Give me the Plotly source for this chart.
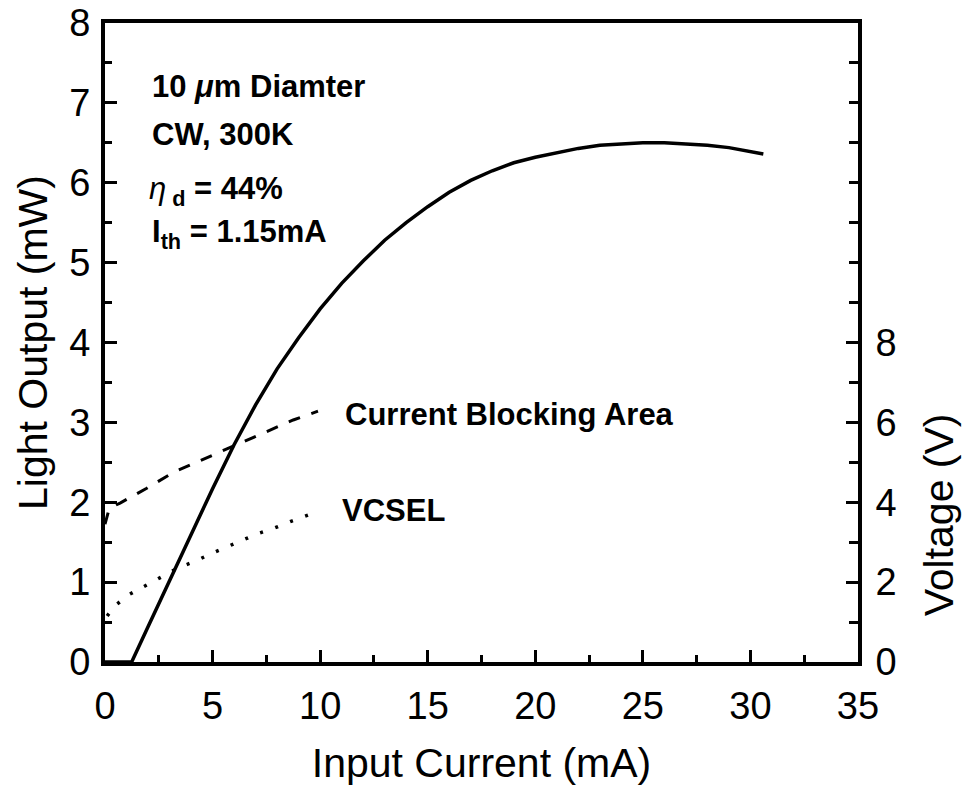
import plotly.graph_objects as go

# ---- data ----
current_L = [0.0, 0.6, 1.24, 2.0, 3.0, 4.0, 5.0, 6.0, 7.0, 8.0, 9.0, 10.0, 11.0, 12.0,
             13.0, 14.0, 15.0, 16.0, 17.0, 18.0, 19.0, 20.0, 21.0, 22.0, 23.0, 24.0,
             25.0, 26.0, 27.0, 28.0, 29.0, 30.0, 30.6]
light_mW = [0.0, 0.0, 0.0, 0.44, 1.02, 1.60, 2.17, 2.72, 3.22, 3.67, 4.06, 4.42, 4.74, 5.02,
            5.28, 5.50, 5.70, 5.88, 6.03, 6.15, 6.25, 6.32, 6.38, 6.43, 6.47, 6.49,
            6.50, 6.50, 6.49, 6.47, 6.44, 6.39, 6.36]

current_cba = [0.0, 0.2, 0.7, 1.94, 3.18, 4.42, 5.73, 7.59, 8.75, 9.9]
voltage_cba = [3.45, 3.85, 3.98, 4.35, 4.75, 5.04, 5.36, 5.78, 6.06, 6.28]

current_vcsel = [0.1, 0.46, 1.16, 1.94, 2.63, 3.41, 4.18, 4.88, 5.66, 6.43, 7.13, 7.9, 8.68, 9.45]
voltage_vcsel = [1.15, 1.41, 1.70, 1.92, 2.13, 2.36, 2.52, 2.70, 2.87, 3.06, 3.22, 3.36, 3.53, 3.68]

x_ticks = [0, 5, 10, 15, 20, 25, 30, 35]
x_minor = [2.5, 7.5, 12.5, 17.5, 22.5, 27.5, 32.5]
yL_ticks = [0, 1, 2, 3, 4, 5, 6, 7, 8]
yL_minor = [0.5, 1.5, 2.5, 3.5, 4.5, 5.5, 6.5, 7.5]
yR_ticks = [0, 2, 4, 6, 8]
yR_minor = [1, 3, 5, 7, 9, 10, 11, 12, 13, 14, 15]

FONT = "Liberation Sans, Arial, sans-serif"
TICK_SIZE = 38
TITLE_SIZE = 41
ANN_SIZE = 31

fig = go.Figure()
fig.add_trace(go.Scatter(x=current_L, y=light_mW, mode="lines",
                         line=dict(color="black", width=3.5), showlegend=False))
fig.add_trace(go.Scatter(x=current_cba, y=voltage_cba, mode="lines", yaxis="y2",
                         line=dict(color="black", width=3, dash="12px,12px"), showlegend=False))
fig.add_trace(go.Scatter(x=current_vcsel, y=voltage_vcsel, mode="lines", yaxis="y2",
                         line=dict(color="black", width=3.5, dash="3px,13px"), showlegend=False))

axis_common = dict(showgrid=False, zeroline=False, showline=True, linecolor="black",
                   linewidth=4, ticks="inside", ticklen=12, tickwidth=3, tickcolor="black",
                   ticklabeloverflow="allow", automargin=False,
                   tickfont=dict(family=FONT, size=TICK_SIZE, color="black"))

fig.update_layout(
    width=965, height=791,
    margin=dict(l=105, r=107, t=23, b=129, autoexpand=False),
    paper_bgcolor="white", plot_bgcolor="white",
    font=dict(family=FONT, color="black"),
    xaxis=dict(range=[0, 35], tickvals=x_ticks, mirror=True,
               minor=dict(tickvals=x_minor, ticks="inside", ticklen=7, tickwidth=3, tickcolor="black"),
               ticklabelstandoff=7,
               title=dict(text="Input Current (mA)", font=dict(family=FONT, size=TITLE_SIZE), standoff=24),
               **axis_common),
    yaxis=dict(range=[0, 8], tickvals=yL_ticks, mirror=True,
               minor=dict(tickvals=yL_minor, ticks="inside", ticklen=7, tickwidth=3, tickcolor="black"),
               ticklabelstandoff=3,
               title=dict(text="Light Output (mW)", font=dict(family=FONT, size=TITLE_SIZE), standoff=10),
               **axis_common),
    yaxis2=dict(range=[0, 16], tickvals=yR_ticks, overlaying="y", side="right",
                minor=dict(tickvals=yR_minor, ticks="inside", ticklen=9, tickwidth=3, tickcolor="black"),
                ticklabelstandoff=6,
                **axis_common),
)

# right axis title sits beside the labelled (0-8 V) part of the axis
fig.add_annotation(x=1.108, y=0.23, xref="paper", yref="paper", text="Voltage (V)",
                   textangle=-90, showarrow=False, xanchor="center", yanchor="middle",
                   font=dict(family=FONT, size=TITLE_SIZE, color="black"))

ann_font = dict(family=FONT, size=ANN_SIZE, color="black")
anns = [
    (2.1, 7.2, "<b>10 <i>μ</i>m Diamter</b>"),
    (2.1, 6.6, "<b>CW, 300K</b>"),
    (1.95, 5.9, "<i>η</i><sub><b> d</b></sub><b> = 44%</b>"),
    (2.1, 5.36, "<b>I</b><sub><b>th</b></sub><b> = 1.15mA</b>"),
    (11.05, 3.10, "<b>Current Blocking Area</b>"),
    (10.9, 1.90, "<b>VCSEL</b>"),
]
for x, y, t in anns:
    fig.add_annotation(x=x, y=y, xref="x", yref="y", text=t, showarrow=False,
                       xanchor="left", yanchor="middle", font=ann_font)

fig.write_html("out.html")
